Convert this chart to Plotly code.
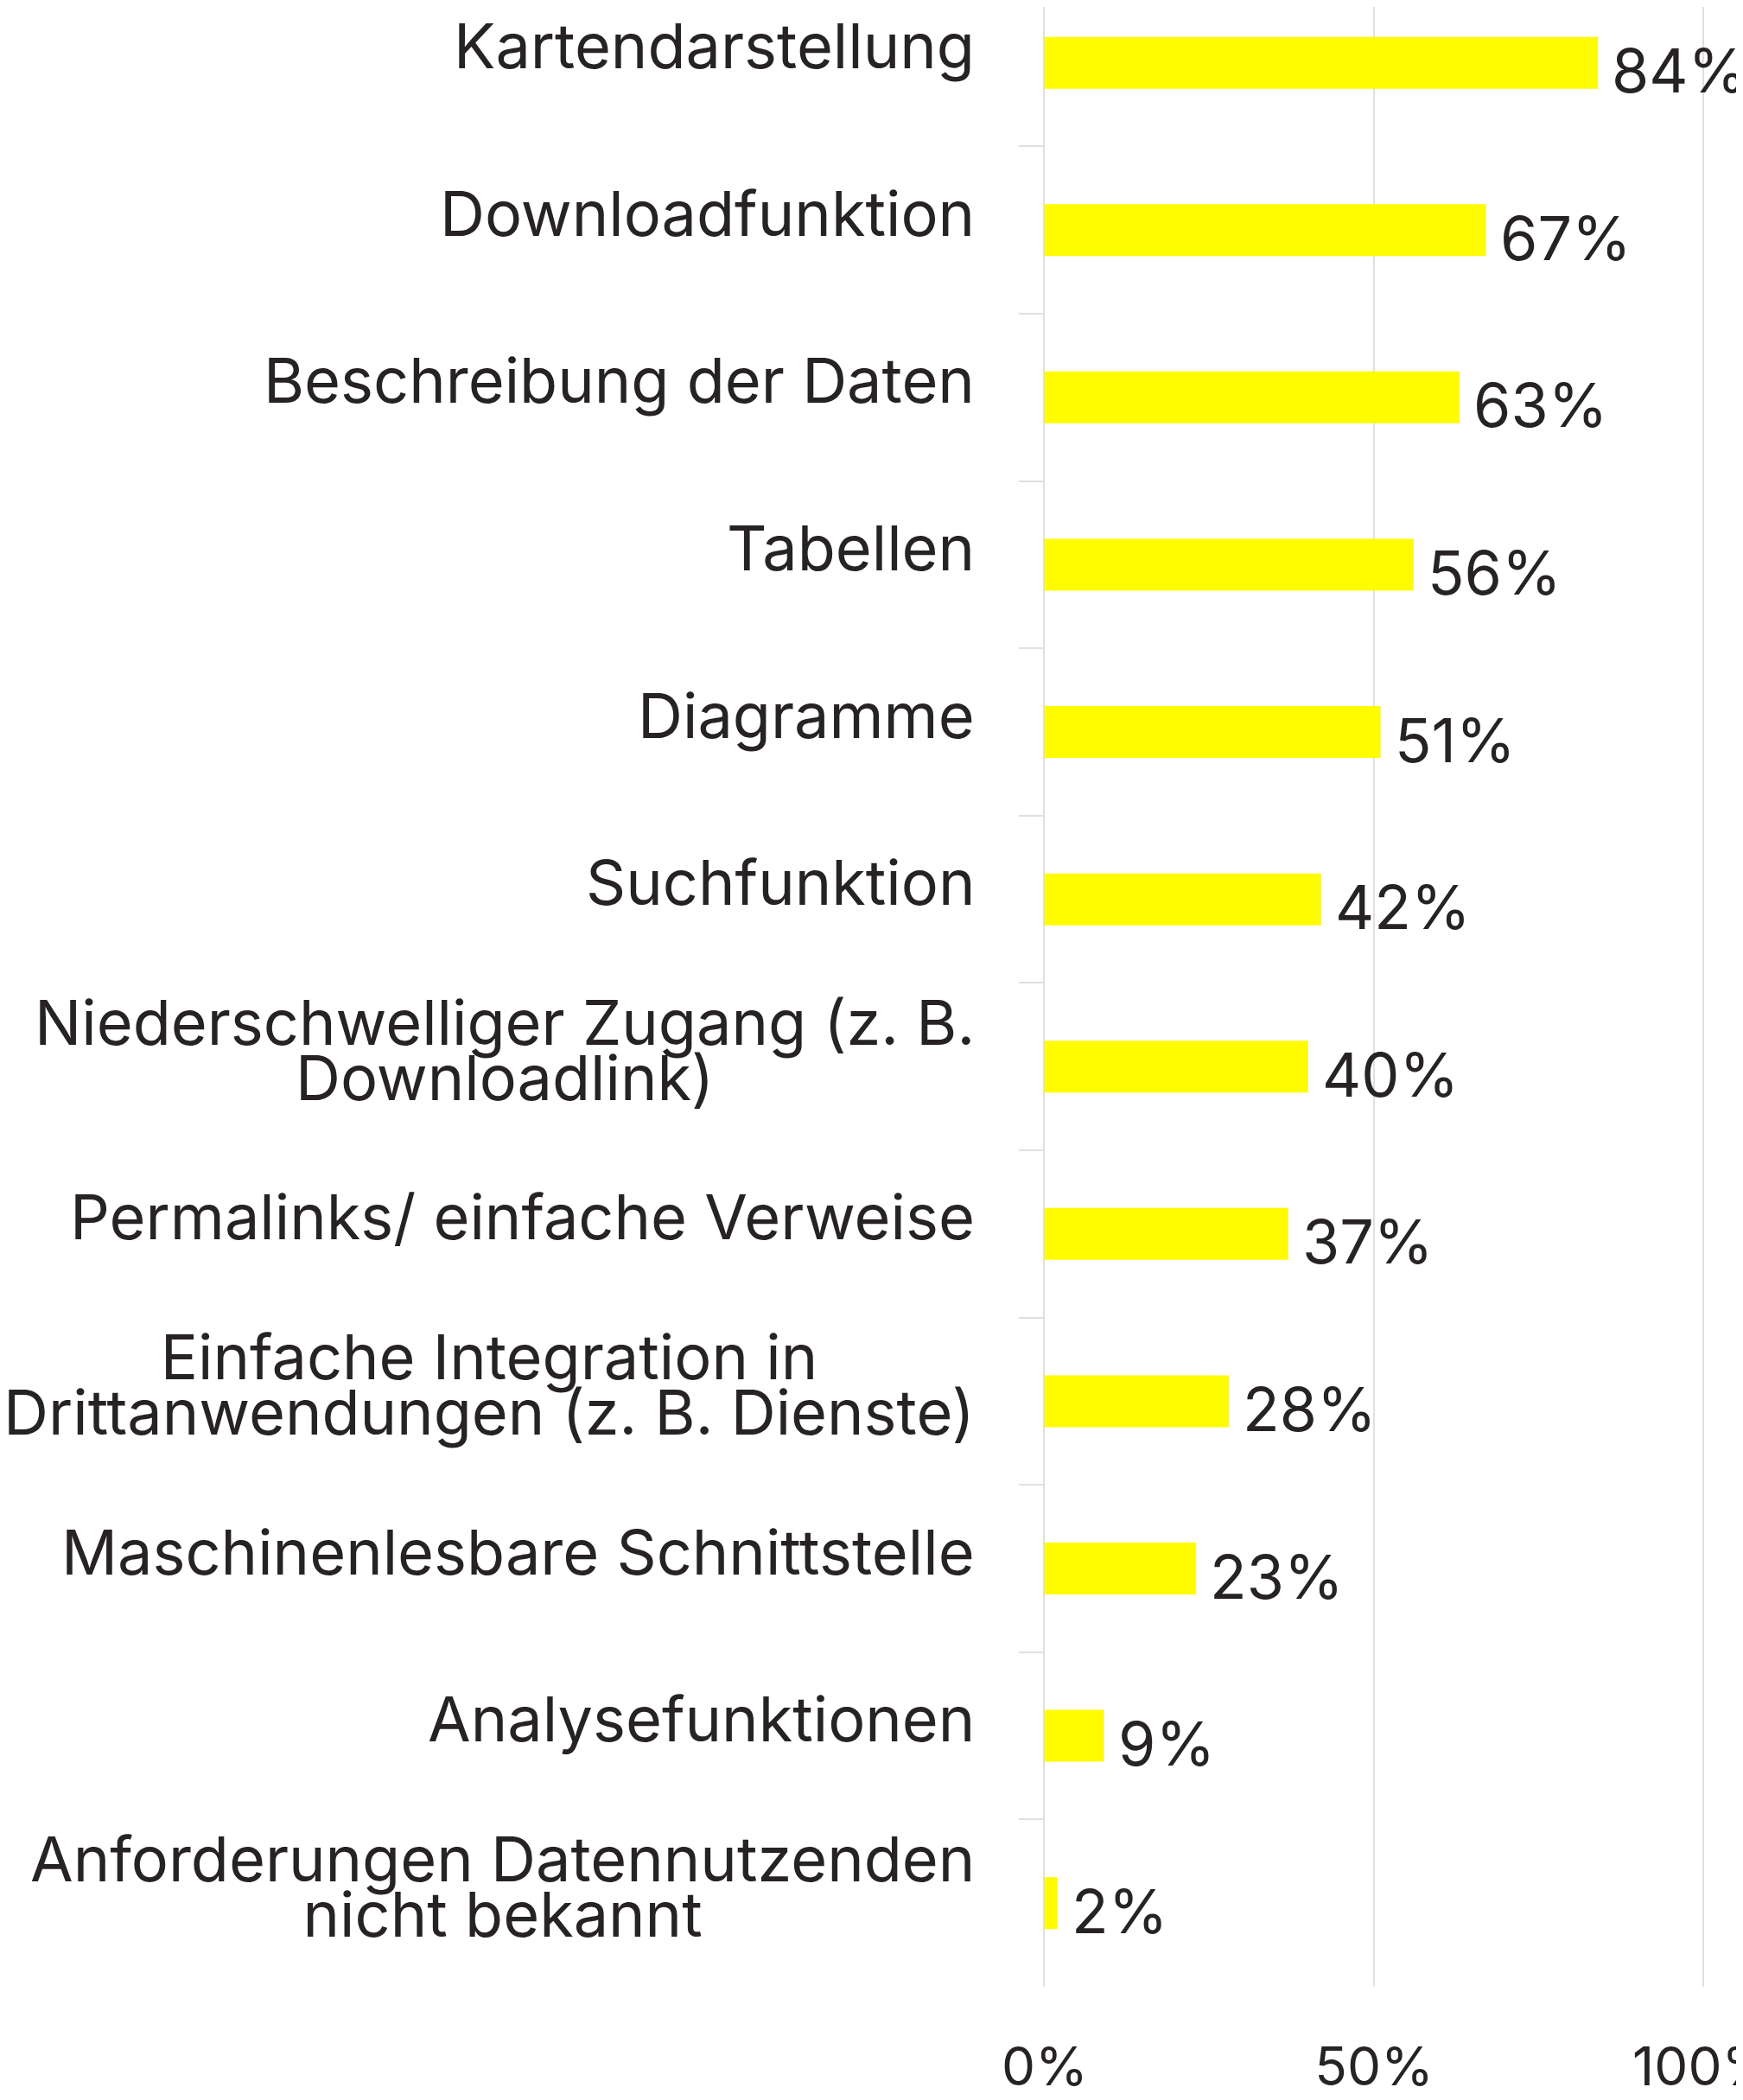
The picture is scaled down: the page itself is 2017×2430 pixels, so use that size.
import plotly.graph_objects as go

# Data
label_lines = [
    ["Kartendarstellung"],
    ["Downloadfunktion"],
    ["Beschreibung der Daten"],
    ["Tabellen"],
    ["Diagramme"],
    ["Suchfunktion"],
    ["Niederschwelliger Zugang (z. B.", "Downloadlink)"],
    ["Permalinks/ einfache Verweise"],
    ["Einfache Integration in", "Drittanwendungen (z. B. Dienste)"],
    ["Maschinenlesbare Schnittstelle"],
    ["Analysefunktionen"],
    ["Anforderungen Datennutzenden", "nicht bekannt"],
]
values = [84, 67, 63, 56, 51, 42, 40, 37, 28, 23, 9, 2]
x_ticks = [0, 50, 100]
x_ticktext = ["0%", "50%", "100%"]

categories = [" ".join(l) for l in label_lines]

FONT = "Inter, 'Liberation Sans', Arial, sans-serif"
TXT = "#262322"
FS = 72        # category labels
FS_VAL = 70    # value labels
FS_TICK = 62   # x tick labels
GRID = "#e0e0e0"

fig = go.Figure()
fig.add_trace(go.Bar(
    x=values, y=categories, orientation="h",
    marker=dict(color="#fffc00", line=dict(width=0)),
    width=0.31, hoverinfo="skip",
))

annotations = []
# category labels (lines centered within block, block right-aligned)
small = 49  # controls line spacing (1.3 * small)
for cat, lines in zip(categories, label_lines):
    txt = "<br>".join(f'<span style="font-size:{FS}px">{ln}</span>' for ln in lines)
    annotations.append(dict(
        xref="paper", x=0, yref="y", y=cat,
        xanchor="right", yanchor="middle", align="center",
        xshift=-79, yshift=20,
        text=txt, showarrow=False,
        font=dict(family=FONT, size=small if len(lines) > 1 else FS, color=TXT),
    ))
# value labels
for cat, v in zip(categories, values):
    annotations.append(dict(
        xref="x", x=v, yref="y", y=cat,
        xanchor="left", yanchor="middle",
        xshift=14, yshift=-9,
        text=f"{v}%", showarrow=False,
        font=dict(family=FONT, size=FS_VAL, color=TXT),
    ))

fig.update_layout(
    width=2009, height=2422,
    margin=dict(l=1201, r=0, t=0, b=131, autoexpand=False),
    paper_bgcolor="white", plot_bgcolor="white",
    showlegend=False,
    annotations=annotations,
    font=dict(family=FONT, color=TXT),
)
fig.update_xaxes(
    range=[0, 106.0], tickvals=x_ticks, ticktext=x_ticktext,
    showgrid=True, gridcolor=GRID, gridwidth=2,
    zeroline=False, showline=False, ticks="",
    tickfont=dict(family=FONT, size=FS_TICK, color=TXT),
    ticklabelstandoff=51, ticklabeloverflow="allow", automargin=False,
)
fig.update_yaxes(
    type="category", categoryorder="array", categoryarray=categories,
    range=[11.5, -0.334],
    showticklabels=False, showgrid=False, zeroline=False,
    showline=True, linecolor=GRID, linewidth=2,
    ticks="outside", tickson="boundaries", ticklen=28,
    tickcolor=GRID, tickwidth=2, automargin=False,
)

fig.write_html("out.html")
